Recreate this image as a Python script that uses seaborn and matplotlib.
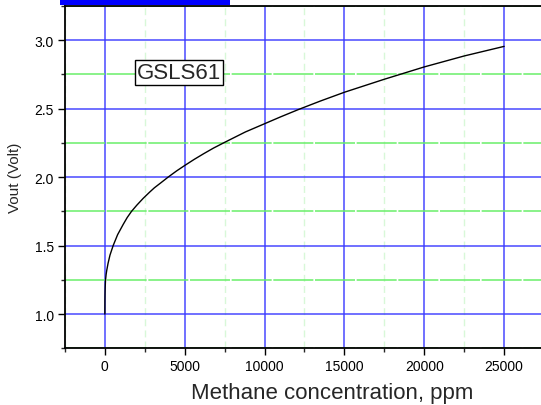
import matplotlib
matplotlib.use("Agg")
import matplotlib.pyplot as plt
import matplotlib.patches as mpatches
from matplotlib.ticker import MultipleLocator, FormatStrFormatter
import seaborn as sns
import pandas as pd

# Sensor output versus methane concentration
concentration_ppm = [0, 5, 10, 20, 40, 80, 120, 200, 320, 520, 800, 1150, 1400,
                     1670, 2000, 2400, 2800, 3100, 3500, 3960, 4500, 5000, 5600,
                     6200, 6800, 7500, 8800, 10000, 11000, 12190, 13500, 15000,
                     17500, 20000, 22500, 25000]
vout_volt = [1.00, 1.10, 1.14, 1.19, 1.245, 1.29, 1.32, 1.37, 1.43, 1.50, 1.58,
             1.655, 1.705, 1.75, 1.795, 1.845, 1.89, 1.922, 1.958, 2.00, 2.046,
             2.085, 2.13, 2.172, 2.212, 2.254, 2.33, 2.39, 2.44, 2.497, 2.556,
             2.62, 2.715, 2.805, 2.885, 2.955]
x_ticks = [0, 5000, 10000, 15000, 20000, 25000]
sensor_name = "GSLS61"
x_label = "Methane concentration, ppm"
y_label = "Vout (Volt)"

df = pd.DataFrame({"ppm": concentration_ppm, "vout": vout_volt})

sns.set_style("ticks")
plt.rcParams["font.family"] = ["Liberation Sans", "DejaVu Sans"]

fig = plt.figure(figsize=(5.41, 4.06), dpi=100)
ax = fig.add_axes([0.120, 0.1397, 0.989, 0.8431])

sns.lineplot(data=df, x="ppm", y="vout", color="black", linewidth=1.0, ax=ax,
             zorder=5)

ax.set_xlim(-2500, 31000)
ax.set_ylim(0.75, 3.25)
ax.set_xticks(x_ticks)
ax.xaxis.set_minor_locator(MultipleLocator(2500))
ax.yaxis.set_major_locator(MultipleLocator(0.5))
ax.yaxis.set_minor_locator(MultipleLocator(0.25))
ax.yaxis.set_major_formatter(FormatStrFormatter("%.1f"))

# grid: blue majors, green minors
ax.grid(which="major", color="#3a3aff", linewidth=1.2, alpha=0.85, zorder=1)
ax.yaxis.grid(which="minor", color="#66ee66", linewidth=1.2, linestyle=(0, (24, 1)),
              alpha=0.9)
ax.xaxis.grid(which="minor", color="#d8f8d8", linewidth=1.0, linestyle=(0, (5, 3)))
ax.set_axisbelow(True)

for side in ["left", "bottom", "top", "right"]:
    ax.spines[side].set_visible(True)
    ax.spines[side].set_linewidth(1.3)
    ax.spines[side].set_color("black")

ax.tick_params(which="major", direction="out", length=5, width=1.0, labelsize=10,
               pad=3, colors="black")
ax.tick_params(which="minor", direction="out", length=3, width=1.0)
ax.tick_params(axis="x", top=False, which="both")

ax.set_xlabel(x_label, fontsize=16, labelpad=6)
ax.set_ylabel(y_label, fontsize=11, labelpad=9)

ax.text(4625, 2.765, sensor_name, fontsize=16, ha="center", va="center", zorder=6,
        bbox=dict(boxstyle="square,pad=0.08", facecolor="white",
                  edgecolor="black", linewidth=1.0))

# blue header bar at the top edge
fig.patches.append(mpatches.Rectangle((60 / 541, 1 - 6 / 406), 170 / 541, 6 / 406,
                                      transform=fig.transFigure, facecolor="#0000ff",
                                      edgecolor="none"))

fig.savefig("out.png", dpi=100)
